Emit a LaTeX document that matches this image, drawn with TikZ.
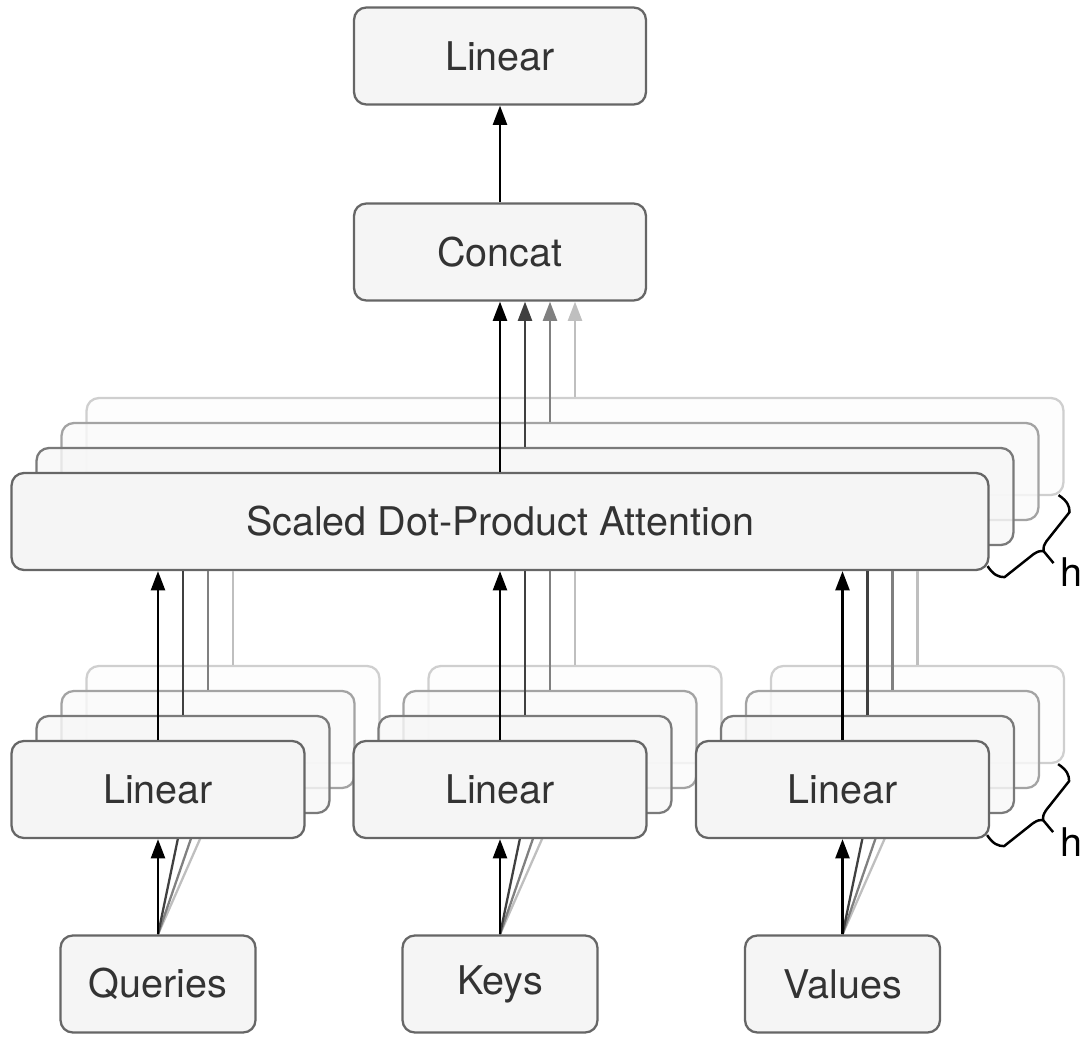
\documentclass[tikz,border=0pt]{standalone}
\usepackage{fontspec}
\setmainfont{TeX Gyre Heros}
\usetikzlibrary{arrows.meta}

\tikzset{
  hbrace/.pic={
    \draw[line width=1.4pt,line join=round]
      (15,-56) .. controls (24,-50) and (26,-45) .. (26,-39) -- (3,-10)
      .. controls (0,-5) .. (0,0) .. controls (-5,0) .. (-10,3) -- (-39,26)
      .. controls (-45,26) and (-50,24) .. (-56,15);
    \draw[line width=1.4pt] (0,0) -- (10,12);
  }
}

\begin{document}
\begin{tikzpicture}[x=0.02cm,y=-0.02cm,
  box/.style={draw=black!60,fill=black!4,line width=1.3pt,rounded corners=7pt,
    minimum height=1.94cm,text=black!80,font=\fontsize{22.5}{27}\selectfont},
  ghost1/.style={box,draw=black!52,fill=black!3,fill opacity=0.8},
  ghost2/.style={box,draw=black!36,fill=black!2,fill opacity=0.8},
  ghost3/.style={box,draw=black!19,fill=black!1,fill opacity=0.8},
  arr/.style={line width=1.4pt,-{Triangle[length=11pt,width=8pt]}}]
  \useasboundingbox (0,0) rectangle (1083,1037);
  \node[box,minimum width=5.84cm] (lout) at (500,56) {Linear};
  \node[box,minimum width=5.84cm] (concat) at (500,252) {Concat};
  \foreach \k in {3,2,1}
    \node[ghost\k,minimum width=19.54cm] (att\k) at (500+25*\k,521.5-25*\k) {};
  \node[box,minimum width=19.54cm] (att0) at (500,521.5) {Scaled Dot-Product Attention};
  \foreach \n/\cx/\t in {q/158/Queries,k/500/Keys,v/842.5/Values} {
    \node[box,minimum width=3.9cm] (in\n) at (\cx,984) {\t};
    \foreach \k in {3,2,1}
      \node[ghost\k,minimum width=5.86cm] (l\n\k) at (\cx+25*\k,789.5-25*\k) {};
    \foreach \k/\c in {3/25,2/50,1/75}
      \draw[line width=1.3pt,black!\c] (in\n.north) -- (l\n\k.south);
    \node[box,minimum width=5.86cm] (l\n0) at (\cx,789.5) {Linear};
    \draw[arr] (in\n.north) -- (l\n0.south);
    \draw[arr] (l\n0.north) -- (l\n0.north |- att0.south);
    \foreach \k/\c in {1/75,2/50,3/25}
      \draw[line width=1.4pt,black!\c] (l\n\k.north) -- (l\n\k.north |- att0.south);
  }
  \draw[arr] (att0.north) -- (concat.south);
  \foreach \k/\c in {1/75,2/50,3/25}
    \draw[arr,black!\c] (att\k.north) -- (att\k.north |- concat.south);
  \draw[arr] (concat.north) -- (lout.south);
  \coordinate (tipatt) at ([shift={(54,-20)}]att0.south east);
  \coordinate (tiplin) at ([shift={(53,-19)}]lv0.south east);
  \pic at (tipatt) {hbrace};
  \pic at (tiplin) {hbrace};
  \node[font=\fontsize{22.5}{27}\selectfont] (hatt) at (1071,572) {h};
  \node[font=\fontsize{22.5}{27}\selectfont] (hlin) at (1071,842) {h};
\end{tikzpicture}
\end{document}
